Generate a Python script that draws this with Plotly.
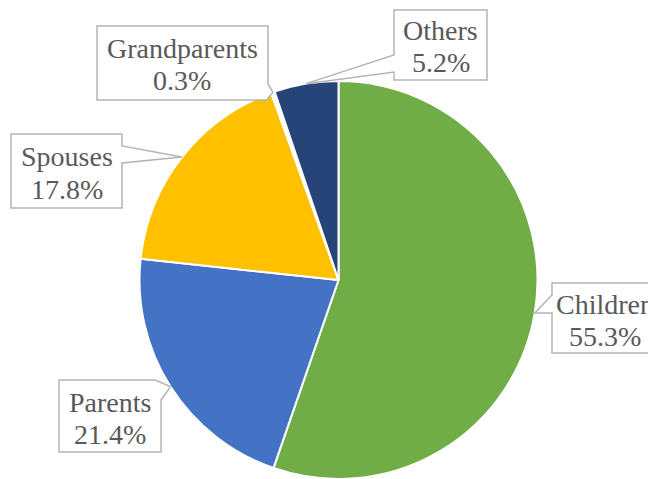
import math
import plotly.graph_objects as go

# ---- data ----
labels = ["Children", "Parents", "Spouses", "Grandparents", "Others"]
values = [55.3, 21.4, 17.8, 0.3, 5.2]
pct_text = ["55.3%", "21.4%", "17.8%", "0.3%", "5.2%"]
colors = ["#70AD47", "#4472C4", "#FFC000", "#FFFFFF", "#264478"]

# page is 656x479; the browser body has an 8px margin
OFF = 8
FW, FH = 656 - OFF, 479 - OFF
# pie geometry (page pixels)
CX, CY, R = 338.5, 280.0, 199.0

def px(x):
    return (x - OFF) / FW

def py(y):
    return 1 - (y - OFF) / FH

fig = go.Figure()
fig.add_trace(go.Pie(
    labels=labels, values=values, sort=False, direction="clockwise", rotation=0,
    marker=dict(colors=colors, line=dict(color="white", width=2)),
    textinfo="none", hoverinfo="label+percent", showlegend=False,
    domain=dict(x=[px(CX - R), px(CX + R)], y=[max(0, py(CY + R)), py(CY - R)]),
))

# tips of callouts at the mid-angle of each slice, on the pie edge
total = sum(values)
tips = {}
cum = 0.0
for lab, v in zip(labels, values):
    mid = (cum + v / 2) / total
    th = 2 * math.pi * mid
    tips[lab] = (CX + R * math.sin(th), CY - R * math.cos(th))
    cum += v

# callout boxes (page pixel layout): box, pointer base and text centre
boxes = {
    "Grandparents": dict(x0=97, y0=26, x1=268, y1=100, side="right", b0=84, b1=98, tx=182.5),
    "Others": dict(x0=394, y0=10, x1=487, y1=80, side="left", b0=55, b1=72, tx=440.5),
    "Spouses": dict(x0=11, y0=134, x1=122, y1=208, side="right", b0=146, b1=163, tx=66.5),
    "Children": dict(x0=552, y0=283, x1=670, y1=353, side="left", b0=295, b1=313, tx=605),
    "Parents": dict(x0=59, y0=380, x1=161, y1=452, side="topright", b0=155, b1=400, tx=110),
}

shapes = []
annotations = []
for lab, pct in zip(labels, pct_text):
    b = boxes[lab]
    tx_, ty_ = tips[lab]
    x0, y0, x1, y1 = b["x0"], b["y0"], b["x1"], b["y1"]
    if b["side"] == "right":
        pts = [(x0, y0), (x1, y0), (x1, b["b0"]), (tx_, ty_), (x1, b["b1"]), (x1, y1), (x0, y1)]
    elif b["side"] == "left":
        pts = [(x0, y0), (x1, y0), (x1, y1), (x0, y1), (x0, b["b1"]), (tx_, ty_), (x0, b["b0"])]
    else:  # top-right corner pointer
        pts = [(x0, y0), (b["b0"], y0), (tx_, ty_), (x1, b["b1"]), (x1, y1), (x0, y1)]
    path = "M " + " L ".join(f"{px(a):.5f},{py(c):.5f}" for a, c in pts) + " Z"
    shapes.append(dict(type="path", path=path, xref="paper", yref="paper",
                       fillcolor="white", line=dict(color="#B4B4B4", width=1.5),
                       layer="above"))
    cy_box = (y0 + y1) / 2
    for txt, dy in ((lab, -14), (pct, 18)):
        annotations.append(dict(
            text=txt, x=px(b["tx"]), y=py(cy_box + dy), xref="paper", yref="paper",
            xanchor="center", yanchor="middle", showarrow=False,
            font=dict(family="Liberation Serif", size=28, color="#595959"),
        ))

fig.update_layout(
    width=FW, height=FH, margin=dict(l=0, r=0, t=0, b=0),
    paper_bgcolor="white", plot_bgcolor="white",
    shapes=shapes, annotations=annotations,
)

fig.write_html("out.html")
